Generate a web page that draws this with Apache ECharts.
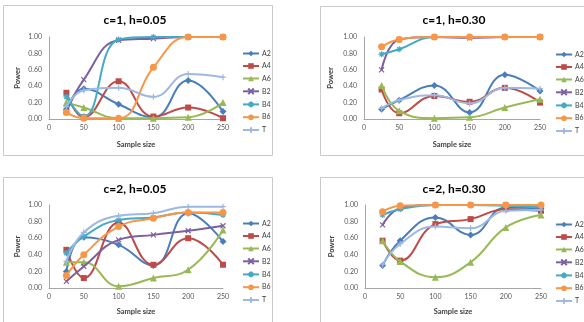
<!DOCTYPE html>
<html><head><meta charset="utf-8">
<script src="https://cdn.jsdelivr.net/npm/echarts@6/dist/echarts.min.js"></script>
<style>html,body{margin:0;padding:0;background:#fff}#c{width:584px;height:322px}</style>
</head><body><div id="c"></div>
<script>
// ---- data ----
const sampleSizes = [25, 50, 100, 150, 200, 250];
const seriesNames = ['A2', 'A4', 'A6', 'B2', 'B4', 'B6', 'T'];
const xTicks = [0, 50, 100, 150, 200, 250];
const yTicks = [0, 0.2, 0.4, 0.6, 0.8, 1.0];
const panelTitles = ['c=1, h=0.05', 'c=1, h=0.30', 'c=2, h=0.05', 'c=2, h=0.30'];
const xAxisTitle = 'Sample size';
const yAxisTitle = 'Power';

// c=1, h=0.05
const c1h005_A2 = [0.12, 0.37, 0.18, 0.02, 0.47, 0.09];
const c1h005_A4 = [0.32, 0.02, 0.46, 0.03, 0.14, 0.01];
const c1h005_A6 = [0.20, 0.14, 0.01, 0.01, 0.02, 0.20];
const c1h005_B2 = [0.08, 0.48, 0.96, 0.98, 1.00, 1.00];
const c1h005_B4 = [0.27, 0.03, 0.97, 1.00, 1.00, 1.00];
const c1h005_B6 = [0.08, 0.01, 0.01, 0.63, 1.00, 1.00];
const c1h005_T  = [0.15, 0.35, 0.38, 0.27, 0.55, 0.51];
// c=1, h=0.30
const c1h030_A2 = [0.12, 0.23, 0.41, 0.08, 0.54, 0.34];
const c1h030_A4 = [0.36, 0.07, 0.28, 0.21, 0.38, 0.20];
const c1h030_A6 = [0.41, 0.10, 0.01, 0.02, 0.14, 0.24];
const c1h030_B2 = [0.60, 0.97, 1.00, 0.99, 1.00, 1.00];
const c1h030_B4 = [0.79, 0.85, 1.00, 1.00, 1.00, 1.00];
const c1h030_B6 = [0.88, 0.97, 1.00, 1.00, 1.00, 1.00];
const c1h030_T  = [0.13, 0.23, 0.29, 0.19, 0.38, 0.37];
// c=2, h=0.05
const c2h005_A2 = [0.20, 0.61, 0.52, 0.27, 0.90, 0.56];
const c2h005_A4 = [0.46, 0.12, 0.79, 0.28, 0.60, 0.28];
const c2h005_A6 = [0.31, 0.31, 0.02, 0.12, 0.22, 0.70];
const c2h005_B2 = [0.08, 0.26, 0.58, 0.64, 0.69, 0.75];
const c2h005_B4 = [0.42, 0.62, 0.82, 0.85, 0.91, 0.88];
const c2h005_B6 = [0.15, 0.40, 0.74, 0.84, 0.91, 0.91];
const c2h005_T  = [0.32, 0.67, 0.87, 0.90, 0.98, 0.98];
// c=2, h=0.30
const c2h030_A2 = [0.27, 0.57, 0.85, 0.64, 0.97, 0.96];
const c2h030_A4 = [0.57, 0.33, 0.77, 0.83, 0.95, 0.93];
const c2h030_A6 = [0.57, 0.32, 0.13, 0.31, 0.73, 0.88];
const c2h030_B2 = [0.76, 0.96, 1.00, 1.00, 1.00, 0.99];
const c2h030_B4 = [0.88, 0.95, 1.00, 1.00, 0.99, 0.97];
const c2h030_B6 = [0.92, 0.99, 1.00, 1.00, 1.00, 1.00];
const c2h030_T  = [0.28, 0.53, 0.74, 0.72, 0.93, 0.94];

const panelData = [
  [c1h005_A2, c1h005_A4, c1h005_A6, c1h005_B2, c1h005_B4, c1h005_B6, c1h005_T],
  [c1h030_A2, c1h030_A4, c1h030_A6, c1h030_B2, c1h030_B4, c1h030_B6, c1h030_T],
  [c2h005_A2, c2h005_A4, c2h005_A6, c2h005_B2, c2h005_B4, c2h005_B6, c2h005_T],
  [c2h030_A2, c2h030_A4, c2h030_A6, c2h030_B2, c2h030_B4, c2h030_B6, c2h030_T]
];

// ---- styles ----
const colors = ['#4A7EBB', '#BE4B48', '#98B954', '#7D60A0', '#46AAC5', '#F79646', '#9DB9E2'];
const symbols = [
  'diamond', 'rect', 'triangle',
  'path://M0,0L10,10M10,0L0,10',
  'path://M5,0L5,10M0,5L10,5M1.5,1.5L8.5,8.5M8.5,1.5L1.5,8.5',
  'circle',
  'path://M5,0L5,10M0,5L10,5'
];
const symbolSizes = [7, 6, 7, 5, 6, 7, 6];

const layout = [
  {box: [3.5, 5.5, 269, 150], grid: {left: 49, top: 37, width: 174, height: 82}, tx: 135, ty: 14, lx: 242, ly: 50, yg: 27, xg: 22},
  {box: [320.5, 6.5, 280, 149], grid: {left: 364, top: 37, width: 176, height: 82}, tx: 454, ty: 14, lx: 555, ly: 51, yg: 29, xg: 22},
  {box: [3.5, 177.5, 269, 170], grid: {left: 49, top: 205, width: 174, height: 83}, tx: 135, ty: 183, lx: 242, ly: 220, yg: 27, xg: 20},
  {box: [320.5, 177.5, 280, 170], grid: {left: 365, top: 205, width: 176, height: 83}, tx: 454, ty: 183, lx: 555, ly: 221, yg: 29, xg: 20}
];

const FONT = 'Lato, "Open Sans", sans-serif';
const option = {
  backgroundColor: '#fff',
  animation: false,
  title: [], legend: [], grid: [], xAxis: [], yAxis: [], series: [],
  graphic: []
};

layout.forEach((L, i) => {
  option.graphic.push({
    type: 'rect', z: -1, silent: true,
    shape: {x: L.box[0], y: L.box[1], width: L.box[2], height: L.box[3]},
    style: {fill: '#fff', stroke: '#c9c9c9', lineWidth: 1}
  });
  option.title.push({
    text: panelTitles[i], left: L.tx, top: L.ty, textAlign: 'center', padding: 0,
    textStyle: {fontFamily: FONT, fontSize: 12, fontWeight: 'bold', color: '#000'}
  });
  option.legend.push({
    data: seriesNames, orient: 'vertical', left: L.lx, top: L.ly, padding: 0,
    itemWidth: 16, itemHeight: 7, itemGap: 5.5, selectedMode: false,
    textStyle: {fontFamily: FONT, fontSize: 7, lineHeight: 7, color: '#404040', padding: [0, 0, 0, -2]}
  });
  option.grid.push(Object.assign({containLabel: false}, L.grid));
  option.xAxis.push({
    type: 'value', gridIndex: i, min: xTicks[0], max: xTicks[xTicks.length - 1], interval: xTicks[1] - xTicks[0],
    name: xAxisTitle, nameLocation: 'middle', nameGap: L.xg,
    nameTextStyle: {fontFamily: FONT, fontSize: 7.5, fontWeight: 'bold', color: '#404040'},
    axisLine: {lineStyle: {color: '#a6a6a6', width: 1}},
    axisTick: {show: false},
    axisLabel: {fontFamily: FONT, fontSize: 7, color: '#595959', margin: 5},
    splitLine: {show: false}
  });
  option.yAxis.push({
    type: 'value', gridIndex: i, min: yTicks[0], max: yTicks[yTicks.length - 1], interval: yTicks[1] - yTicks[0],
    name: yAxisTitle, nameLocation: 'middle', nameGap: L.yg,
    nameTextStyle: {fontFamily: FONT, fontSize: 7.5, fontWeight: 'bold', color: '#404040'},
    axisLine: {show: true, lineStyle: {color: '#a6a6a6', width: 1}},
    axisTick: {show: false},
    axisLabel: {fontFamily: FONT, fontSize: 7, color: '#595959', margin: 7, formatter: v => v.toFixed(2)},
    splitLine: {show: false}
  });
  seriesNames.forEach((name, k) => {
    const vals = panelData[i][k];
    option.series.push({
      type: 'line', name: name, xAxisIndex: i, yAxisIndex: i,
      data: sampleSizes.map((x, j) => [x, vals[j]]),
      smooth: 0.45, clip: false,
      symbol: symbols[k], symbolSize: symbolSizes[k], showSymbol: true,
      lineStyle: {color: colors[k], width: 2},
      itemStyle: {color: colors[k], borderColor: colors[k], borderWidth: symbols[k].startsWith('path') ? 1.2 : 0},
      z: 2 + k
    });
  });
});

const chart = echarts.init(document.getElementById('c'), null, {renderer: 'canvas'});
chart.setOption(option);
</script>
</body></html>
